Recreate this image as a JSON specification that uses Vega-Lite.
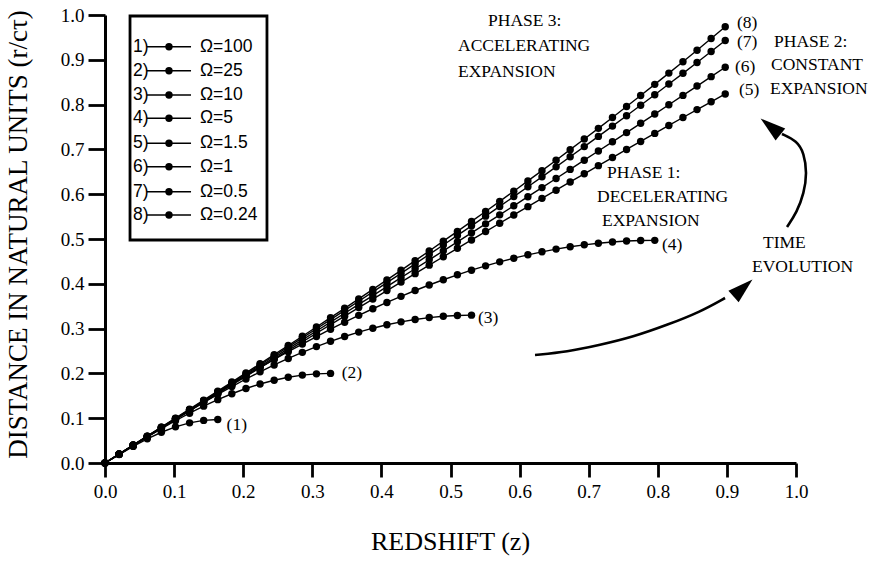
{
"$schema": "https://vega.github.io/schema/vega-lite/v6.json",
"width": 691, "height": 448,
"autosize": {"type": "none"},
"padding": {"left": 105, "top": 15, "right": 73, "bottom": 100},
"background": "white",
"config": {"view": {"stroke": null}, "font": "Liberation Serif"},
"datasets": {
"curves": [
{"c":1,"z":0,"y":0},{"c":1,"z":0.0204,"y":0.0189},{"c":1,"z":0.0408,"y":0.0371},{"c":1,"z":0.0612,"y":0.0539},{"c":1,"z":0.0816,"y":0.0686},{"c":1,"z":0.102,"y":0.0807},{"c":1,"z":0.1224,"y":0.0896},{"c":1,"z":0.1428,"y":0.0951},{"c":1,"z":0.1632,"y":0.097},
{"c":2,"z":0,"y":0},{"c":2,"z":0.0204,"y":0.0196},{"c":2,"z":0.0408,"y":0.039},{"c":2,"z":0.0612,"y":0.0581},{"c":2,"z":0.0816,"y":0.0765},{"c":2,"z":0.102,"y":0.0943},{"c":2,"z":0.1224,"y":0.1111},{"c":2,"z":0.1428,"y":0.1269},{"c":2,"z":0.1632,"y":0.1414},{"c":2,"z":0.1836,"y":0.1546},{"c":2,"z":0.204,"y":0.1663},{"c":2,"z":0.2244,"y":0.1764},{"c":2,"z":0.2448,"y":0.1848},{"c":2,"z":0.2652,"y":0.1914},{"c":2,"z":0.2856,"y":0.1962},{"c":2,"z":0.306,"y":0.199},{"c":2,"z":0.3264,"y":0.2},
{"c":3,"z":0,"y":0},{"c":3,"z":0.0204,"y":0.0199},{"c":3,"z":0.0408,"y":0.0398},{"c":3,"z":0.0612,"y":0.0595},{"c":3,"z":0.0816,"y":0.079},{"c":3,"z":0.102,"y":0.0982},{"c":3,"z":0.1224,"y":0.117},{"c":3,"z":0.1428,"y":0.1354},{"c":3,"z":0.1632,"y":0.1534},{"c":3,"z":0.1836,"y":0.1707},{"c":3,"z":0.204,"y":0.1875},{"c":3,"z":0.2244,"y":0.2035},{"c":3,"z":0.2448,"y":0.2188},{"c":3,"z":0.2652,"y":0.2333},{"c":3,"z":0.2856,"y":0.247},{"c":3,"z":0.306,"y":0.2598},{"c":3,"z":0.3264,"y":0.2716},{"c":3,"z":0.3468,"y":0.2824},{"c":3,"z":0.3672,"y":0.2922},{"c":3,"z":0.3876,"y":0.3009},{"c":3,"z":0.408,"y":0.3086},{"c":3,"z":0.4284,"y":0.3151},{"c":3,"z":0.4488,"y":0.3204},{"c":3,"z":0.4692,"y":0.3246},{"c":3,"z":0.4896,"y":0.3276},{"c":3,"z":0.51,"y":0.3294},{"c":3,"z":0.5304,"y":0.33},
{"c":4,"z":0,"y":0},{"c":4,"z":0.0204,"y":0.02},{"c":4,"z":0.0408,"y":0.04},{"c":4,"z":0.0612,"y":0.0599},{"c":4,"z":0.0816,"y":0.0797},{"c":4,"z":0.102,"y":0.0994},{"c":4,"z":0.1224,"y":0.1189},{"c":4,"z":0.1428,"y":0.1383},{"c":4,"z":0.1632,"y":0.1574},{"c":4,"z":0.1836,"y":0.1762},{"c":4,"z":0.204,"y":0.1948},{"c":4,"z":0.2244,"y":0.2131},{"c":4,"z":0.2448,"y":0.231},{"c":4,"z":0.2652,"y":0.2485},{"c":4,"z":0.2856,"y":0.2656},{"c":4,"z":0.306,"y":0.2823},{"c":4,"z":0.3264,"y":0.2986},{"c":4,"z":0.3468,"y":0.3143},{"c":4,"z":0.3672,"y":0.3296},{"c":4,"z":0.3876,"y":0.3443},{"c":4,"z":0.408,"y":0.3584},{"c":4,"z":0.4284,"y":0.372},{"c":4,"z":0.4488,"y":0.385},{"c":4,"z":0.4692,"y":0.3973},{"c":4,"z":0.4896,"y":0.409},{"c":4,"z":0.51,"y":0.4201},{"c":4,"z":0.5304,"y":0.4304},{"c":4,"z":0.5508,"y":0.4401},{"c":4,"z":0.5712,"y":0.449},{"c":4,"z":0.5916,"y":0.4572},{"c":4,"z":0.612,"y":0.4647},{"c":4,"z":0.6324,"y":0.4714},{"c":4,"z":0.6528,"y":0.4774},{"c":4,"z":0.6732,"y":0.4826},{"c":4,"z":0.6936,"y":0.487},{"c":4,"z":0.714,"y":0.4906},{"c":4,"z":0.7344,"y":0.4934},{"c":4,"z":0.7548,"y":0.4954},{"c":4,"z":0.7752,"y":0.4966},{"c":4,"z":0.7956,"y":0.497},
{"c":5,"z":0,"y":0},{"c":5,"z":0.0204,"y":0.0194},{"c":5,"z":0.0408,"y":0.0388},{"c":5,"z":0.0612,"y":0.0581},{"c":5,"z":0.0816,"y":0.0775},{"c":5,"z":0.102,"y":0.0969},{"c":5,"z":0.1224,"y":0.1162},{"c":5,"z":0.1428,"y":0.1355},{"c":5,"z":0.1632,"y":0.1549},{"c":5,"z":0.1836,"y":0.1742},{"c":5,"z":0.204,"y":0.1935},{"c":5,"z":0.2244,"y":0.2127},{"c":5,"z":0.2448,"y":0.232},{"c":5,"z":0.2652,"y":0.2512},{"c":5,"z":0.2856,"y":0.2704},{"c":5,"z":0.306,"y":0.2896},{"c":5,"z":0.3264,"y":0.3087},{"c":5,"z":0.3468,"y":0.3278},{"c":5,"z":0.3672,"y":0.3469},{"c":5,"z":0.3876,"y":0.3659},{"c":5,"z":0.408,"y":0.3849},{"c":5,"z":0.4284,"y":0.4038},{"c":5,"z":0.4488,"y":0.4227},{"c":5,"z":0.4692,"y":0.4416},{"c":5,"z":0.4896,"y":0.4604},{"c":5,"z":0.51,"y":0.4792},{"c":5,"z":0.5304,"y":0.4979},{"c":5,"z":0.5508,"y":0.5166},{"c":5,"z":0.5712,"y":0.5352},{"c":5,"z":0.5916,"y":0.5537},{"c":5,"z":0.612,"y":0.5722},{"c":5,"z":0.6324,"y":0.5907},{"c":5,"z":0.6528,"y":0.609},{"c":5,"z":0.6732,"y":0.6273},{"c":5,"z":0.6936,"y":0.6456},{"c":5,"z":0.714,"y":0.6637},{"c":5,"z":0.7344,"y":0.6818},{"c":5,"z":0.7548,"y":0.6999},{"c":5,"z":0.7752,"y":0.7178},{"c":5,"z":0.7956,"y":0.7357},{"c":5,"z":0.816,"y":0.7535},{"c":5,"z":0.8364,"y":0.7712},{"c":5,"z":0.8568,"y":0.7888},{"c":5,"z":0.8772,"y":0.8063},{"c":5,"z":0.8976,"y":0.8238},
{"c":6,"z":0,"y":0},{"c":6,"z":0.0204,"y":0.0196},{"c":6,"z":0.0408,"y":0.0392},{"c":6,"z":0.0612,"y":0.0588},{"c":6,"z":0.0816,"y":0.0784},{"c":6,"z":0.102,"y":0.098},{"c":6,"z":0.1224,"y":0.1176},{"c":6,"z":0.1428,"y":0.1372},{"c":6,"z":0.1632,"y":0.1568},{"c":6,"z":0.1836,"y":0.1764},{"c":6,"z":0.204,"y":0.1961},{"c":6,"z":0.2244,"y":0.2158},{"c":6,"z":0.2448,"y":0.2354},{"c":6,"z":0.2652,"y":0.2552},{"c":6,"z":0.2856,"y":0.2749},{"c":6,"z":0.306,"y":0.2946},{"c":6,"z":0.3264,"y":0.3144},{"c":6,"z":0.3468,"y":0.3342},{"c":6,"z":0.3672,"y":0.354},{"c":6,"z":0.3876,"y":0.3738},{"c":6,"z":0.408,"y":0.3937},{"c":6,"z":0.4284,"y":0.4136},{"c":6,"z":0.4488,"y":0.4336},{"c":6,"z":0.4692,"y":0.4535},{"c":6,"z":0.4896,"y":0.4735},{"c":6,"z":0.51,"y":0.4936},{"c":6,"z":0.5304,"y":0.5137},{"c":6,"z":0.5508,"y":0.5338},{"c":6,"z":0.5712,"y":0.5539},{"c":6,"z":0.5916,"y":0.5741},{"c":6,"z":0.612,"y":0.5944},{"c":6,"z":0.6324,"y":0.6147},{"c":6,"z":0.6528,"y":0.635},{"c":6,"z":0.6732,"y":0.6554},{"c":6,"z":0.6936,"y":0.6759},{"c":6,"z":0.714,"y":0.6964},{"c":6,"z":0.7344,"y":0.7169},{"c":6,"z":0.7548,"y":0.7375},{"c":6,"z":0.7752,"y":0.7582},{"c":6,"z":0.7956,"y":0.7789},{"c":6,"z":0.816,"y":0.7997},{"c":6,"z":0.8364,"y":0.8205},{"c":6,"z":0.8568,"y":0.8414},{"c":6,"z":0.8772,"y":0.8624},{"c":6,"z":0.8976,"y":0.8834},
{"c":7,"z":0,"y":0},{"c":7,"z":0.0204,"y":0.0198},{"c":7,"z":0.0408,"y":0.0396},{"c":7,"z":0.0612,"y":0.0594},{"c":7,"z":0.0816,"y":0.0792},{"c":7,"z":0.102,"y":0.099},{"c":7,"z":0.1224,"y":0.1189},{"c":7,"z":0.1428,"y":0.1388},{"c":7,"z":0.1632,"y":0.1587},{"c":7,"z":0.1836,"y":0.1787},{"c":7,"z":0.204,"y":0.1987},{"c":7,"z":0.2244,"y":0.2188},{"c":7,"z":0.2448,"y":0.2389},{"c":7,"z":0.2652,"y":0.2591},{"c":7,"z":0.2856,"y":0.2794},{"c":7,"z":0.306,"y":0.2997},{"c":7,"z":0.3264,"y":0.3201},{"c":7,"z":0.3468,"y":0.3406},{"c":7,"z":0.3672,"y":0.3611},{"c":7,"z":0.3876,"y":0.3818},{"c":7,"z":0.408,"y":0.4026},{"c":7,"z":0.4284,"y":0.4234},{"c":7,"z":0.4488,"y":0.4444},{"c":7,"z":0.4692,"y":0.4655},{"c":7,"z":0.4896,"y":0.4866},{"c":7,"z":0.51,"y":0.508},{"c":7,"z":0.5304,"y":0.5294},{"c":7,"z":0.5508,"y":0.551},{"c":7,"z":0.5712,"y":0.5727},{"c":7,"z":0.5916,"y":0.5946},{"c":7,"z":0.612,"y":0.6166},{"c":7,"z":0.6324,"y":0.6387},{"c":7,"z":0.6528,"y":0.661},{"c":7,"z":0.6732,"y":0.6835},{"c":7,"z":0.6936,"y":0.7062},{"c":7,"z":0.714,"y":0.729},{"c":7,"z":0.7344,"y":0.752},{"c":7,"z":0.7548,"y":0.7752},{"c":7,"z":0.7752,"y":0.7985},{"c":7,"z":0.7956,"y":0.8221},{"c":7,"z":0.816,"y":0.8459},{"c":7,"z":0.8364,"y":0.8698},{"c":7,"z":0.8568,"y":0.894},{"c":7,"z":0.8772,"y":0.9184},{"c":7,"z":0.8976,"y":0.943},
{"c":8,"z":0,"y":0},{"c":8,"z":0.0204,"y":0.02},{"c":8,"z":0.0408,"y":0.04},{"c":8,"z":0.0612,"y":0.06},{"c":8,"z":0.0816,"y":0.08},{"c":8,"z":0.102,"y":0.1001},{"c":8,"z":0.1224,"y":0.1202},{"c":8,"z":0.1428,"y":0.1403},{"c":8,"z":0.1632,"y":0.1605},{"c":8,"z":0.1836,"y":0.1807},{"c":8,"z":0.204,"y":0.201},{"c":8,"z":0.2244,"y":0.2214},{"c":8,"z":0.2448,"y":0.2418},{"c":8,"z":0.2652,"y":0.2623},{"c":8,"z":0.2856,"y":0.2829},{"c":8,"z":0.306,"y":0.3036},{"c":8,"z":0.3264,"y":0.3244},{"c":8,"z":0.3468,"y":0.3453},{"c":8,"z":0.3672,"y":0.3663},{"c":8,"z":0.3876,"y":0.3874},{"c":8,"z":0.408,"y":0.4087},{"c":8,"z":0.4284,"y":0.4301},{"c":8,"z":0.4488,"y":0.4516},{"c":8,"z":0.4692,"y":0.4732},{"c":8,"z":0.4896,"y":0.4951},{"c":8,"z":0.51,"y":0.517},{"c":8,"z":0.5304,"y":0.5392},{"c":8,"z":0.5508,"y":0.5615},{"c":8,"z":0.5712,"y":0.584},{"c":8,"z":0.5916,"y":0.6067},{"c":8,"z":0.612,"y":0.6296},{"c":8,"z":0.6324,"y":0.6526},{"c":8,"z":0.6528,"y":0.6759},{"c":8,"z":0.6732,"y":0.6994},{"c":8,"z":0.6936,"y":0.7231},{"c":8,"z":0.714,"y":0.747},{"c":8,"z":0.7344,"y":0.7712},{"c":8,"z":0.7548,"y":0.7956},{"c":8,"z":0.7752,"y":0.8203},{"c":8,"z":0.7956,"y":0.8452},{"c":8,"z":0.816,"y":0.8703},{"c":8,"z":0.8364,"y":0.8957},{"c":8,"z":0.8568,"y":0.9214},{"c":8,"z":0.8772,"y":0.9474},{"c":8,"z":0.8976,"y":0.9737}
],
"legend": [
{"n":"1)","t":"Ω=100","y":0.9292},{"n":"2)","t":"Ω=25","y":0.8757},{"n":"3)","t":"Ω=10","y":0.8214},{"n":"4)","t":"Ω=5","y":0.7694},{"n":"5)","t":"Ω=1.5","y":0.7136},{"n":"6)","t":"Ω=1","y":0.6614},{"n":"7)","t":"Ω=0.5","y":0.6056},{"n":"8)","t":"Ω=0.24","y":0.5536}
],
"notes": [
{"t":"(8)","x":0.9146,"y":0.9821},{"t":"(7)","x":0.9146,"y":0.9397},{"t":"(6)","x":0.9117,"y":0.8839},{"t":"(5)","x":0.9175,"y":0.8326},
{"t":"PHASE 2:","x":0.9682,"y":0.9397},{"t":"CONSTANT","x":0.9639,"y":0.8884},{"t":"EXPANSION","x":0.9624,"y":0.8348},
{"t":"PHASE 3:","x":0.5543,"y":0.9866},{"t":"ACCELERATING","x":0.5109,"y":0.9308},{"t":"EXPANSION","x":0.5109,"y":0.8728},
{"t":"PHASE 1:","x":0.7265,"y":0.6473},{"t":"DECELERATING","x":0.712,"y":0.5938},{"t":"EXPANSION","x":0.7192,"y":0.5402},
{"t":"(4)","x":0.8061,"y":0.4866},{"t":"(3)","x":0.5398,"y":0.3237},{"t":"(2)","x":0.3426,"y":0.2005},{"t":"(1)","x":0.176,"y":0.0848},
{"t":"TIME","x":0.9522,"y":0.4911},{"t":"EVOLUTION","x":0.9363,"y":0.4375}
],
"arrows": [
{"a":1,"o":1,"x":0.6223,"y":0.2411},{"a":1,"o":2,"x":0.6686,"y":0.2478},{"a":1,"o":3,"x":0.7164,"y":0.2634},{"a":1,"o":4,"x":0.7641,"y":0.2813},{"a":1,"o":5,"x":0.8133,"y":0.308},{"a":1,"o":6,"x":0.8611,"y":0.3371},{"a":1,"o":7,"x":0.8973,"y":0.3683},
{"a":2,"o":1,"x":0.987,"y":0.5268},{"a":2,"o":2,"x":1.0014,"y":0.5603},{"a":2,"o":3,"x":1.0116,"y":0.6027},{"a":2,"o":4,"x":1.0159,"y":0.6473},{"a":2,"o":5,"x":1.0116,"y":0.692},{"a":2,"o":6,"x":1.0014,"y":0.7188},{"a":2,"o":7,"x":0.9797,"y":0.7344}
],
"heads": [
{"x":0.9233,"y":0.3906,"ang":48},{"x":0.9631,"y":0.7511,"ang":-51}
]
},
"layer": [
{
"data": {"name": "curves"},
"mark": {"type": "line", "color": "black", "strokeWidth": 1.4},
"encoding": {
"x": {"field": "z", "type": "quantitative", "scale": {"domain": [0, 1], "nice": false, "zero": false},
"axis": {"values": [0,0.05,0.1,0.15,0.2,0.25,0.3,0.35,0.4,0.45,0.5,0.55,0.6,0.65,0.7,0.75,0.8,0.85,0.9,0.95,1],
"labelExpr": "round(datum.value*20)%2==0 ? format(datum.value,'.1f') : ''",
"tickSize": {"condition": {"test": "round(datum.value*20)%2==0", "value": 14}, "value": 8},
"tickWidth": 2.8, "tickColor": "black", "domainColor": "black", "domainWidth": 3, "grid": false,
"labelFont": "Liberation Serif", "labelFontSize": 19, "labelColor": "black", "labelPadding": 5, "labelOverlap": false, "labelFlush": false,
"title": "REDSHIFT (z)", "titleFont": "Liberation Serif", "titleFontSize": 26, "titleFontWeight": "normal", "titleColor": "black",
"titleX": 345, "titleY": 78, "titleBaseline": "middle", "titleAlign": "center"}},
"y": {"field": "y", "type": "quantitative", "scale": {"domain": [0, 1], "nice": false, "zero": false},
"axis": {"values": [0,0.05,0.1,0.15,0.2,0.25,0.3,0.35,0.4,0.45,0.5,0.55,0.6,0.65,0.7,0.75,0.8,0.85,0.9,0.95,1],
"labelExpr": "round(datum.value*20)%2==0 ? format(datum.value,'.1f') : ''",
"tickSize": {"condition": {"test": "round(datum.value*20)%2==0", "value": 17}, "value": 10},
"tickWidth": 2.8, "tickColor": "black", "domainColor": "black", "domainWidth": 3, "grid": false,
"labelFont": "Liberation Serif", "labelFontSize": 19, "labelColor": "black", "labelPadding": 4, "labelOverlap": false, "labelFlush": false,
"title": "DISTANCE IN NATURAL UNITS (r/cτ)", "titleFont": "Liberation Serif", "titleFontSize": 27, "titleFontWeight": "normal", "titleColor": "black",
"titleX": -87, "titleY": 219, "titleAngle": -90, "titleBaseline": "middle", "titleAlign": "center"}},
"detail": {"field": "c", "type": "nominal"}
}
},
{
"data": {"name": "curves"},
"mark": {"type": "point", "filled": true, "color": "black", "opacity": 1, "size": 55},
"encoding": {
"x": {"field": "z", "type": "quantitative"},
"y": {"field": "y", "type": "quantitative"}
}
},
{
"data": {"values": [{"box": 1}]},
"mark": {"type": "rect", "fill": "white", "stroke": "black", "strokeWidth": 2.8},
"encoding": {
"x": {"datum": 0.0362, "type": "quantitative"},
"x2": {"datum": 0.2344},
"y": {"datum": 0.4978, "type": "quantitative"},
"y2": {"datum": 0.9978}
}
},
{
"data": {"name": "legend"},
"mark": {"type": "rule", "color": "black", "strokeWidth": 1.5},
"encoding": {
"x": {"datum": 0.0608, "type": "quantitative"},
"x2": {"datum": 0.1245},
"y": {"field": "y", "type": "quantitative"}
}
},
{
"data": {"name": "legend"},
"mark": {"type": "point", "filled": true, "color": "black", "opacity": 1, "size": 55},
"encoding": {
"x": {"datum": 0.0926, "type": "quantitative"},
"y": {"field": "y", "type": "quantitative"}
}
},
{
"data": {"name": "legend"},
"mark": {"type": "text", "font": "Liberation Sans", "fontSize": 17.5, "align": "left", "baseline": "middle", "color": "black"},
"encoding": {
"x": {"datum": 0.0405, "type": "quantitative"},
"y": {"field": "y", "type": "quantitative"},
"text": {"field": "n"}
}
},
{
"data": {"name": "legend"},
"mark": {"type": "text", "font": "Liberation Sans", "fontSize": 17.5, "align": "left", "baseline": "middle", "color": "black"},
"encoding": {
"x": {"datum": 0.1375, "type": "quantitative"},
"y": {"field": "y", "type": "quantitative"},
"text": {"field": "t"}
}
},
{
"data": {"name": "notes"},
"mark": {"type": "text", "font": "Liberation Serif", "fontSize": 17.5, "align": "left", "baseline": "middle", "color": "black"},
"encoding": {
"x": {"field": "x", "type": "quantitative"},
"y": {"field": "y", "type": "quantitative"},
"text": {"field": "t"}
}
},
{
"data": {"name": "arrows"},
"mark": {"type": "line", "color": "black", "strokeWidth": 2.6, "interpolate": "basis"},
"encoding": {
"x": {"field": "x", "type": "quantitative"},
"y": {"field": "y", "type": "quantitative"},
"detail": {"field": "a", "type": "nominal"},
"order": {"field": "o", "type": "quantitative"}
}
},
{
"data": {"name": "heads"},
"mark": {"type": "point", "shape": "M0,-1L0.6,1L-0.6,1Z", "filled": true, "color": "black", "opacity": 1, "size": 650},
"encoding": {
"x": {"field": "x", "type": "quantitative"},
"y": {"field": "y", "type": "quantitative"},
"angle": {"field": "ang", "type": "quantitative", "scale": null}
}
}
]
}
